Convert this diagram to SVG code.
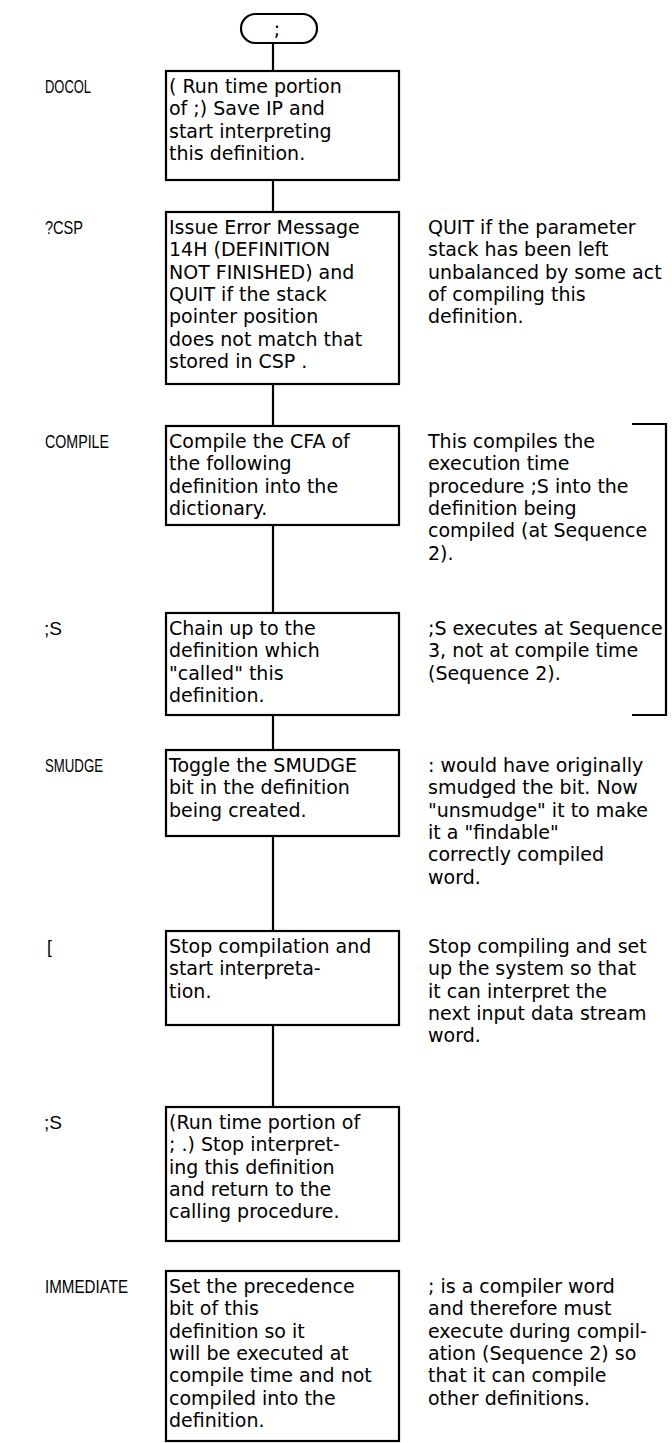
<svg xmlns="http://www.w3.org/2000/svg" width="672" height="1443" viewBox="0 0 672 1443">
<style>
.box{fill:#fff;stroke:#000;stroke-width:2.2}
.ln{fill:none;stroke:#000;stroke-width:2.2}
.t{font-family:"DejaVu Sans",sans-serif;font-size:19px;fill:#000}
.lb{font-family:"Liberation Sans",Arial,sans-serif;font-size:17.5px;fill:#000}
</style>
<rect width="672" height="1443" fill="#fff"/>
<g id="connectors">
<path class="ln" d="M273 43V71M273 180V212M273 384V426M273 525V613M273 715V750M273 836V931M273 1025V1107"/>
<path class="ln" d="M632 424H666V715H632"/>
</g>
<g id="start">
<rect class="box" x="241" y="14" width="76" height="29" rx="14.5"/>
<text class="t" x="277" y="36" text-anchor="middle" font-size="21">;</text>
</g>
<g id="docol">
<text class="lb" x="45" y="93" textLength="46" lengthAdjust="spacingAndGlyphs">DOCOL</text>
<rect class="box" x="166" y="71" width="233" height="109"/>
<text class="t" x="169"><tspan x="169" y="93">( Run time portion</tspan><tspan x="169" y="115.3">of ;)  Save IP and</tspan><tspan x="169" y="137.6">start interpreting</tspan><tspan x="169" y="160">this definition.</tspan></text>
</g>
<g id="qcsp">
<text class="lb" x="45" y="234" textLength="38" lengthAdjust="spacingAndGlyphs">?CSP</text>
<rect class="box" x="166" y="212" width="233" height="172"/>
<text class="t"><tspan x="169" y="234">Issue Error Message</tspan><tspan x="169" y="256.3">14H (DEFINITION</tspan><tspan x="169" y="278.6">NOT FINISHED) and</tspan><tspan x="169" y="300.9">QUIT if the stack</tspan><tspan x="169" y="323.2">pointer position</tspan><tspan x="169" y="345.5">does not match that</tspan><tspan x="169" y="367.8">stored in CSP .</tspan></text>
<text class="t"><tspan x="428" y="234">QUIT if the parameter</tspan><tspan x="428" y="256.3">stack has been left</tspan><tspan x="428" y="278.6">unbalanced by some act</tspan><tspan x="428" y="300.9">of compiling this</tspan><tspan x="428" y="323.2">definition.</tspan></text>
</g>
<g id="compile">
<text class="lb" x="45" y="448" textLength="64" lengthAdjust="spacingAndGlyphs">COMPILE</text>
<rect class="box" x="166" y="426" width="233" height="99"/>
<text class="t"><tspan x="169" y="448">Compile the CFA of</tspan><tspan x="169" y="470.3">the following</tspan><tspan x="169" y="492.6">definition into the</tspan><tspan x="169" y="514.9">dictionary.</tspan></text>
<text class="t"><tspan x="428" y="448">This compiles the</tspan><tspan x="428" y="470.3">execution time</tspan><tspan x="428" y="492.6">procedure ;S into the</tspan><tspan x="428" y="514.9">definition being</tspan><tspan x="428" y="537.2">compiled (at Sequence</tspan><tspan x="428" y="559.5">2).</tspan></text>
</g>
<g id="semis1">
<text class="lb" x="44" y="635" textLength="18" lengthAdjust="spacingAndGlyphs">;S</text>
<rect class="box" x="166" y="613" width="233" height="102"/>
<text class="t"><tspan x="169" y="635">Chain up to the</tspan><tspan x="169" y="657.3">definition which</tspan><tspan x="169" y="679.6">"called" this</tspan><tspan x="169" y="701.9">definition.</tspan></text>
<text class="t"><tspan x="428" y="635">;S executes at Sequence</tspan><tspan x="428" y="657.3">3, not at compile time</tspan><tspan x="428" y="679.6">(Sequence 2).</tspan></text>
</g>
<g id="smudge">
<text class="lb" x="45" y="772" textLength="58" lengthAdjust="spacingAndGlyphs">SMUDGE</text>
<rect class="box" x="166" y="750" width="233" height="86"/>
<text class="t"><tspan x="169" y="772">Toggle the SMUDGE</tspan><tspan x="169" y="794.3">bit in the definition</tspan><tspan x="169" y="816.6">being created.</tspan></text>
<text class="t"><tspan x="428" y="772">: would have originally</tspan><tspan x="428" y="794.3">smudged the bit. Now</tspan><tspan x="428" y="816.6">"unsmudge" it to make</tspan><tspan x="428" y="838.9">it a "findable"</tspan><tspan x="428" y="861.2">correctly compiled</tspan><tspan x="428" y="883.5">word.</tspan></text>
</g>
<g id="lbracket">
<text class="lb" x="47" y="953">[</text>
<rect class="box" x="166" y="931" width="233" height="94"/>
<text class="t"><tspan x="169" y="953">Stop compilation and</tspan><tspan x="169" y="975.3">start interpreta-</tspan><tspan x="169" y="997.6">tion.</tspan></text>
<text class="t"><tspan x="428" y="953">Stop compiling and set</tspan><tspan x="428" y="975.3">up the system so that</tspan><tspan x="428" y="997.6">it can interpret the</tspan><tspan x="428" y="1019.9">next input data stream</tspan><tspan x="428" y="1042.2">word.</tspan></text>
</g>
<g id="semis2">
<text class="lb" x="44" y="1129" textLength="18" lengthAdjust="spacingAndGlyphs">;S</text>
<rect class="box" x="166" y="1107" width="233" height="134"/>
<text class="t"><tspan x="169" y="1129">(Run time portion of</tspan><tspan x="169" y="1151.3">; .) Stop interpret-</tspan><tspan x="169" y="1173.6">ing this definition</tspan><tspan x="169" y="1195.9">and return to the</tspan><tspan x="169" y="1218.2">calling procedure.</tspan></text>
</g>
<g id="immediate">
<text class="lb" x="45" y="1293" textLength="83" lengthAdjust="spacingAndGlyphs">IMMEDIATE</text>
<rect class="box" x="166" y="1271" width="233" height="170"/>
<text class="t"><tspan x="169" y="1293">Set the precedence</tspan><tspan x="169" y="1315.3">bit of this</tspan><tspan x="169" y="1337.6">definition so it</tspan><tspan x="169" y="1359.9">will be executed at</tspan><tspan x="169" y="1382.2">compile time and not</tspan><tspan x="169" y="1404.5">compiled into the</tspan><tspan x="169" y="1426.8">definition.</tspan></text>
<text class="t"><tspan x="428" y="1293">; is a compiler word</tspan><tspan x="428" y="1315.3">and therefore must</tspan><tspan x="428" y="1337.6">execute during compil-</tspan><tspan x="428" y="1359.9">ation (Sequence 2) so</tspan><tspan x="428" y="1382.2">that it can compile</tspan><tspan x="428" y="1404.5">other definitions.</tspan></text>
</g>
</svg>
